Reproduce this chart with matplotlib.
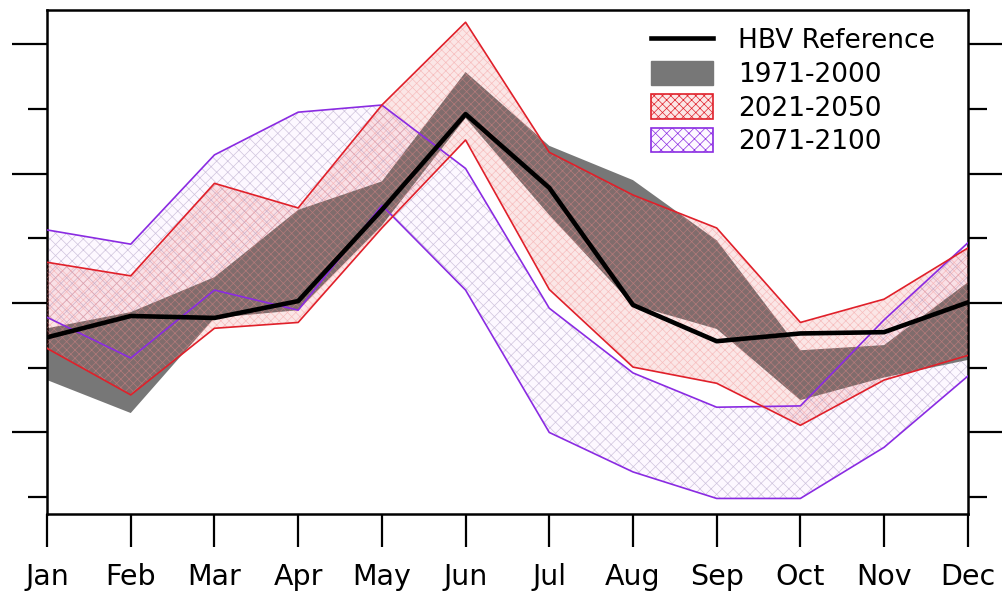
import matplotlib.pyplot as plt
from matplotlib.patches import Patch
from matplotlib.lines import Line2D

plt.rcParams['hatch.linewidth'] = 0.5

# Monthly values (arbitrary runoff units)
months = ['Jan', 'Feb', 'Mar', 'Apr', 'May', 'Jun',
          'Jul', 'Aug', 'Sep', 'Oct', 'Nov', 'Dec']
hbv_ref = [2.47, 2.80, 2.77, 3.03, 4.44, 5.92, 4.78, 2.97, 2.41, 2.53, 2.55, 3.01]

ctl_hi = [2.61, 2.86, 3.40, 4.44, 4.88, 6.57, 5.43, 4.90, 3.97, 2.27, 2.35, 3.32]
ctl_lo = [1.81, 1.30, 2.77, 2.89, 4.20, 5.86, 4.36, 2.97, 2.60, 1.50, 1.85, 2.12]

mid_hi = [3.63, 3.42, 4.85, 4.47, 6.06, 7.34, 5.33, 4.67, 4.16, 2.70, 3.06, 3.85]
mid_lo = [2.30, 1.58, 2.61, 2.70, 4.16, 5.52, 3.21, 2.01, 1.76, 1.11, 1.81, 2.19]

end_hi = [4.13, 3.91, 5.29, 5.95, 6.06, 5.08, 2.92, 1.92, 1.39, 1.41, 2.74, 3.93]
end_lo = [2.78, 2.15, 3.20, 2.89, 4.51, 3.20, 1.00, 0.39, -0.02, -0.02, 0.77, 1.87]

x = list(range(len(months)))

fig = plt.figure(figsize=(10.03, 5.92), dpi=100)
ax = fig.add_axes([0.0469, 0.1318, 0.918, 0.8514])

# 2071-2100 band (bottom layer)
ax.fill_between(x, end_lo, end_hi, facecolor='#fdf8ff', edgecolor='#cfc4dd',
                hatch='xxx', linewidth=0, zorder=1)
ax.plot(x, end_hi, color='#8a2be2', lw=1.2, zorder=5)
ax.plot(x, end_lo, color='#8a2be2', lw=1.2, zorder=5)

# 1971-2000 band
ax.fill_between(x, ctl_lo, ctl_hi, facecolor='#777777', linewidth=0, zorder=2)

# 2021-2050 band, semi transparent on top
ax.fill_between(x, mid_lo, mid_hi, facecolor=(0.85, 0.05, 0.05, 0.10),
                edgecolor=(0.95, 0.55, 0.55, 0.45), hatch='xxxx', linewidth=0, zorder=3)
ax.plot(x, mid_hi, color='#e0202a', lw=1.2, zorder=5)
ax.plot(x, mid_lo, color='#e0202a', lw=1.2, zorder=5)

# reference run
ax.plot(x, hbv_ref, color='black', lw=3.3, zorder=6)

ax.set_xlim(0, 11)
ax.set_ylim(-0.26, 7.53)
ax.set_xticks(x)
ax.set_xticklabels(months, fontsize=20.5)
ax.set_yticks([1, 3, 5, 7])
ax.set_yticks([0, 2, 4, 6], minor=True)
ax.tick_params(axis='x', direction='out', length=24, width=1.6, pad=11, top=False)
ax.tick_params(axis='y', which='major', direction='out', length=25, width=1.6,
               left=True, right=True, labelleft=False, labelright=False)
ax.tick_params(axis='y', which='minor', direction='out', length=14, width=1.6,
               left=True, right=True, labelleft=False, labelright=False)
for sp in ax.spines.values():
    sp.set_linewidth(1.8)

handles = [
    Line2D([], [], color='black', lw=3.3),
    Patch(facecolor='#777777', edgecolor='#777777'),
    Patch(facecolor='#fbe6e6', edgecolor='#e0202a', hatch='xxxx', lw=1.2),
    Patch(facecolor='#fdf8ff', edgecolor='#8a2be2', hatch='xxx', lw=1.2),
]
labels = ['HBV Reference', '1971-2000', '2021-2050', '2071-2100']
ax.legend(handles, labels, loc='upper left', bbox_to_anchor=(0.6417, 0.992),
          frameon=False, fontsize=19, borderpad=0, labelspacing=0.24,
          handlelength=2.35, handleheight=1.05, handletextpad=0.95)

fig.savefig('out.png', dpi=100)
